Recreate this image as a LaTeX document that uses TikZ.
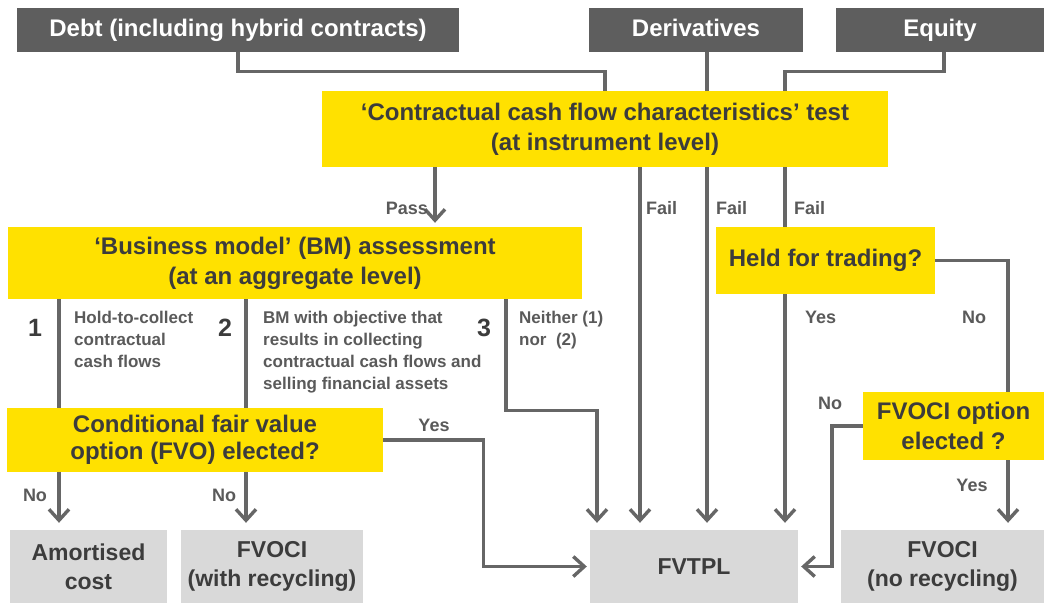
\documentclass[tikz,border=0pt]{standalone}
\usepackage{fontspec}
\setmainfont{Liberation Sans}
\usetikzlibrary{arrows.meta}

\definecolor{eyyellow}{HTML}{FFE100}
\definecolor{darkbox}{HTML}{5E5E5E}
\definecolor{lightbox}{HTML}{D9D9D9}
\definecolor{linegray}{HTML}{666666}
\definecolor{txtgray}{HTML}{5A5A5A}
\definecolor{boxtxt}{HTML}{3C3C3C}

\begin{document}
\begin{tikzpicture}[x=1pt,y=-1pt,>={Straight Barb[length=11pt,width=20pt]},
  head node/.style={fill=darkbox,text=white,inner sep=0pt,minimum height=44pt,
    text height=17pt,text depth=5pt,font=\fontsize{24}{30}\selectfont\bfseries},
  test node/.style={fill=eyyellow,text=boxtxt,inner sep=0pt,align=center,
    font=\fontsize{24}{30}\selectfont\bfseries},
  result node/.style={fill=lightbox,text=boxtxt,inner sep=0pt,align=center,minimum height=73pt,
    font=\fontsize{23}{29}\selectfont\bfseries},
  note text/.style={text=txtgray,inner sep=0pt,align=left,anchor=north west,
    font=\fontsize{17}{22}\selectfont\bfseries},
  num text/.style={text=boxtxt,inner sep=0pt,font=\fontsize{25}{30}\selectfont\bfseries},
  lbl/.style={text=txtgray,inner sep=0pt,font=\fontsize{18}{22}\selectfont\bfseries},
  conn/.style={draw=linegray,line width=3.4pt},
  arr/.style={conn,->,shorten >=7pt}]

  \useasboundingbox[fill=white] (0,0) rectangle (1046,603);

  % sources
  \node[head node,minimum width=442pt] (debt) at (238,30) {Debt (including hybrid contracts)};
  \node[head node,minimum width=214pt] (deriv) at (696,30) {Derivatives};
  \node[head node,minimum width=208pt] (equity) at (940,30) {Equity};

  % tests
  \node[test node,minimum width=566pt,minimum height=76pt] (ccf) at (605,129) {‘Contractual cash flow characteristics’ test\\(at instrument level)};
  \node[test node,minimum width=574pt,minimum height=72pt] (bm) at (295,263) {‘Business model’ (BM) assessment\\(at an aggregate level)};
  \node[test node,minimum width=219pt,minimum height=67pt] (held) at (825.5,260.5) {Held for trading?};
  \node[test node,minimum width=376pt,minimum height=64pt,font=\fontsize{24}{27}\selectfont\bfseries] (fvo) at (195,440) {Conditional fair value\\option (FVO) elected?};
  \node[test node,minimum width=181pt,minimum height=68pt] (fvocopt) at (953.5,426) {FVOCI option\\elected ?};

  % outcomes
  \node[result node,minimum width=157pt] (amort) at (88.5,566.5) {Amortised\\cost};
  \node[result node,minimum width=182pt] (fvoci1) at (272,566.5) {FVOCI\\(with recycling)};
  \node[result node,minimum width=208pt] (fvtpl) at (694,566.5) {FVTPL};
  \node[result node,minimum width=203pt] (fvoci2) at (942.5,566.5) {FVOCI\\(no recycling)};

  % business models
  \node[num text] (n1) at (35,328) {1};
  \node[num text] (n2) at (225,328) {2};
  \node[num text] (n3) at (484,328) {3};
  \node[note text] (bm1) at (74,311) {Hold-to-collect\\contractual\\cash flows};
  \node[note text] (bm2) at (263,311) {BM with objective that\\results in collecting\\contractual cash flows and\\selling financial assets};
  \node[note text] (bm3) at (519,311) {Neither (1)\\nor~~(2)};

  % lanes
  \coordinate (lanea) at (59,0);
  \coordinate (laneb) at (246,0);
  \coordinate (lanec) at (506,0);
  \coordinate (lanepass) at (435,0);
  \coordinate (lanee) at (597,0);
  \coordinate (lanefa) at (640,0);
  \coordinate (lanefb) at (707,0);
  \coordinate (lanefc) at (785,0);
  \coordinate (lanefd) at (1008,0);

  \draw[conn] (debt.south) -- ++(0,19) -| (ccf.north);
  \draw[conn] (lanefb |- deriv.south) -- (lanefb |- ccf.north);
  \draw[conn] (equity.south) ++(4,0) -- ++(0,19) -| (lanefc |- ccf.north);

  \draw[arr,shorten >=4pt] (lanepass |- ccf.south) -- (lanepass |- bm.north);
  \draw[arr] (lanefa |- ccf.south) -- (lanefa |- fvtpl.north);
  \draw[arr] (lanefb |- ccf.south) -- (lanefb |- fvtpl.north);
  \draw[conn] (lanefc |- ccf.south) -- (lanefc |- held.north);
  \draw[arr] (lanefc |- held.south) -- (lanefc |- fvtpl.north);
  \draw[conn] (held.east) -| (lanefd |- fvocopt.north);

  \draw[conn] (lanea |- bm.south) -- (lanea |- fvo.north);
  \draw[conn] (laneb |- bm.south) -- (laneb |- fvo.north);
  \draw[arr] (lanec |- bm.south) -- ++(0,111) -| (lanee |- fvtpl.north);

  \draw[arr] (lanea |- fvo.south) -- (lanea |- amort.north);
  \draw[arr] (laneb |- fvo.south) -- (laneb |- fvoci1.north);
  \draw[arr,shorten >=3pt] (fvo.east) -- ++(100,0) |- (fvtpl.west);
  \draw[arr,shorten >=3pt] (fvocopt.west) -- ++(-31,0) |- (fvtpl.east);
  \draw[arr] (lanefd |- fvocopt.south) -- (lanefd |- fvoci2.north);

  % labels
  \node[lbl,anchor=east] (pass) at (428,208) {Pass};
  \node[lbl,anchor=west] (faila) at (646,208) {Fail};
  \node[lbl,anchor=west] (failb) at (716,208) {Fail};
  \node[lbl,anchor=west] (failc) at (794,208) {Fail};
  \node[lbl,anchor=west] (yesheld) at (805,317) {Yes};
  \node[lbl,anchor=west] (noheld) at (962,317) {No};
  \node[lbl] (noopt) at (830,403) {No};
  \node[lbl] (yesopt) at (972,485) {Yes};
  \node[lbl] (yesfvo) at (434,425) {Yes};
  \node[lbl] (noa) at (35,495) {No};
  \node[lbl] (nob) at (224,495) {No};

\end{tikzpicture}
\end{document}
